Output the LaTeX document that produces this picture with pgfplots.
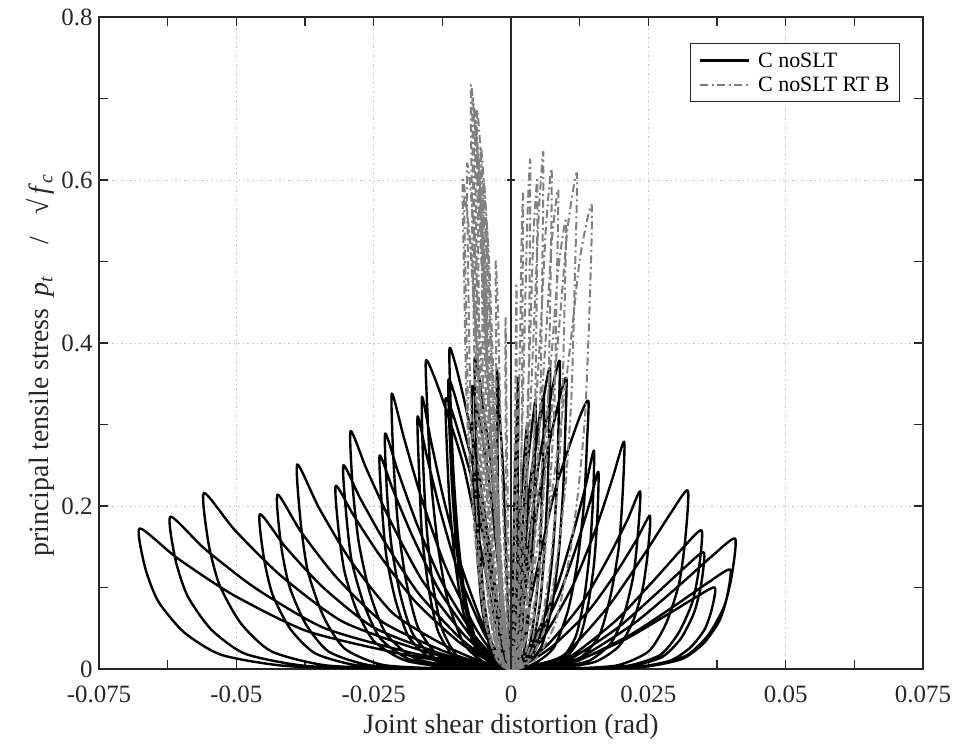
\documentclass[border=0pt]{standalone}
\usepackage{fontspec}
\setmainfont{Liberation Serif}
\usepackage{pgfplots}
\pgfplotsset{compat=1.18}
\definecolor{axgray}{RGB}{38,38,38}
\definecolor{rtb}{RGB}{128,128,128}
\begin{document}
\begin{tikzpicture}
\begin{axis}[
  scale only axis,
  width=824bp, height=652bp,
  xmin=-0.075, xmax=0.075, ymin=0, ymax=0.8,
  xtick={-0.075,-0.05,-0.025,0,0.025,0.05,0.075},
  xticklabels={-0.075,-0.05,-0.025,0,0.025,0.05,0.075},
  ytick={0,0.2,0.4,0.6,0.8},
  yticklabels={0,0.2,0.4,0.6,0.8},
  minor x tick num=1, minor y tick num=1,
  tick align=inside,
  major tick length=9bp, minor tick length=9bp,
  axis line style={line width=1.6bp, axgray},
  every tick/.style={line width=1.6bp, axgray},
  xmajorgrids, ymajorgrids,
  grid style={gray!45, line width=0.9bp, dash pattern=on 1.5bp off 3bp},
  tick label style={font=\fontsize{25}{29}\selectfont, text=axgray},
  xticklabel style={yshift=-13bp},
  yticklabel style={xshift=-3bp},
  label style={font=\fontsize{28}{32}\selectfont, text=axgray},
  xlabel={Joint shear distortion (rad)},
  xlabel style={yshift=-5bp},
  ylabel={principal tensile stress\hspace{12bp}\textit{p}\textsubscript{\textit{t}}\hspace{32bp}/\hspace{22bp}√\hspace{5bp}\textit{f}\textsubscript{\textit{c}}},
  ylabel style={at={(ticklabel cs:0.466)}},
  scaled ticks=false,
  legend style={at={(0.972,0.96)}, anchor=north east, draw=axgray, line width=1bp,
    font=\fontsize{22}{25}\selectfont, inner xsep=8bp, inner ysep=7bp,
    row sep=4bp},
  legend cell align=left,
  legend image code/.code={\draw[#1] (0bp,0bp) -- (49bp,0bp); \path (55bp,0bp);},
]
% C noSLT
\addplot[black, line width=2.4bp, smooth, tension=0.4, line join=round] coordinates {
(0,0) (-0.0203,0.0003) (-0.0406,0.0035) (-0.0527,0.0173) (-0.0595,0.0449) (-0.0642,0.0828) (-0.0666,0.1242) (-0.0676,0.1725) (-0.0608,0.1363) (-0.0507,0.0914) (-0.0372,0.0466) (-0.0203,0.0190) (-0.0081,0.0052) (0,0)
(0.0111,0.0002) (0.0223,0.002) (0.0289,0.01) (0.0326,0.026) (0.0352,0.048) (0.0365,0.072) (0.0371,0.1) (0.0334,0.087) (0.0278,0.064) (0.0204,0.035) (0.0111,0.008) (0.0045,0.002) (0,0)
(-0.0186,0.0004) (-0.0372,0.0037) (-0.0484,0.0187) (-0.0546,0.0486) (-0.0589,0.0898) (-0.0611,0.1346) (-0.0620,0.187) (-0.0558,0.1477) (-0.0465,0.0991) (-0.0341,0.0505) (-0.0186,0.0206) (-0.0074,0.0056) (0,0)
(0.012,0.0002) (0.0239,0.0024) (0.0311,0.0122) (0.0351,0.0317) (0.0379,0.0586) (0.0393,0.0878) (0.0399,0.122) (0.0359,0.1061) (0.0299,0.0781) (0.0219,0.0427) (0.012,0.0098) (0.0048,0.0024) (0,0)
(-0.0168,0.0004) (-0.0335,0.0043) (-0.0436,0.0216) (-0.0492,0.0562) (-0.0531,0.1037) (-0.0551,0.1555) (-0.0559,0.216) (-0.0503,0.1706) (-0.0419,0.1145) (-0.0307,0.0583) (-0.0168,0.0238) (-0.0067,0.0065) (0,0)
(0.0122,0.0003) (0.0245,0.0032) (0.0318,0.016) (0.0359,0.0416) (0.0388,0.0768) (0.0402,0.1152) (0.0408,0.16) (0.0367,0.1392) (0.0306,0.1024) (0.0224,0.056) (0.0122,0.0128) (0.0049,0.0032) (0,0)
(-0.0137,0.0004) (-0.0274,0.0038) (-0.0356,0.019) (-0.0402,0.0494) (-0.0434,0.0912) (-0.0450,0.1368) (-0.0457,0.190) (-0.0411,0.1501) (-0.0343,0.1007) (-0.0251,0.0513) (-0.0137,0.0209) (-0.0055,0.0057) (0,0)
(0.0105,0.0003) (0.0211,0.0029) (0.0274,0.0143) (0.0309,0.0372) (0.0333,0.0686) (0.0346,0.103) (0.0351,0.143) (0.0316,0.1244) (0.0263,0.0915) (0.0193,0.05) (0.0105,0.0114) (0.0042,0.0029) (0,0)
(-0.0128,0.0004) (-0.0255,0.0043) (-0.0332,0.0214) (-0.0374,0.0556) (-0.0404,0.1027) (-0.0419,0.1541) (-0.0425,0.214) (-0.0383,0.1691) (-0.0319,0.1134) (-0.0234,0.0578) (-0.0128,0.0235) (-0.0051,0.0064) (0,0)
(0.0104,0.0003) (0.0208,0.0034) (0.0271,0.017) (0.0305,0.0442) (0.033,0.0816) (0.0342,0.1224) (0.0347,0.17) (0.0312,0.1479) (0.026,0.1088) (0.0191,0.0595) (0.0104,0.0136) (0.0042,0.0034) (0,0)
(-0.0117,0.0005) (-0.0233,0.005) (-0.0303,0.0251) (-0.0342,0.0653) (-0.0370,0.1205) (-0.0383,0.1807) (-0.0389,0.251) (-0.0350,0.1983) (-0.0292,0.1330) (-0.0214,0.0678) (-0.0117,0.0276) (-0.0047,0.0075) (0,0)
(0.0097,0.0004) (0.0193,0.0044) (0.0251,0.0219) (0.0283,0.0569) (0.0306,0.1051) (0.0317,0.1577) (0.0322,0.219) (0.029,0.1905) (0.0242,0.1402) (0.0177,0.0767) (0.0097,0.0175) (0.0039,0.0044) (0,0)
(-0.0096,0.0011) (-0.0191,0.0101) (-0.0249,0.0338) (-0.0281,0.072) (-0.0303,0.1193) (-0.0314,0.171) (-0.0319,0.225) (-0.0287,0.189) (-0.0239,0.1395) (-0.0175,0.0833) (-0.0096,0.0338) (-0.0038,0.009) (0,0)
(0.0076,0.0009) (0.0152,0.0085) (0.0197,0.0282) (0.0223,0.0602) (0.024,0.0996) (0.0249,0.1429) (0.0253,0.188) (0.0228,0.1579) (0.019,0.1166) (0.0139,0.0696) (0.0076,0.0282) (0.003,0.0075) (0,0)
(-0.0092,0.0013) (-0.0183,0.0113) (-0.0238,0.0375) (-0.0268,0.08) (-0.0290,0.1325) (-0.0300,0.19) (-0.0305,0.25) (-0.0275,0.21) (-0.0229,0.155) (-0.0168,0.0925) (-0.0092,0.0375) (-0.0037,0.01) (0,0)
(0.0071,0.0011) (0.0141,0.0098) (0.0183,0.0327) (0.0207,0.0698) (0.0223,0.1155) (0.0231,0.1657) (0.0235,0.218) (0.0212,0.1831) (0.0176,0.1352) (0.0129,0.0807) (0.0071,0.0327) (0.0028,0.0087) (0,0)
(-0.0088,0.0015) (-0.0175,0.0131) (-0.0228,0.0438) (-0.0257,0.0934) (-0.0277,0.1548) (-0.0288,0.2219) (-0.0292,0.292) (-0.0263,0.2453) (-0.0219,0.1810) (-0.0161,0.1080) (-0.0088,0.0438) (-0.0035,0.0117) (0,0)
(0.0062,0.0014) (0.0124,0.0126) (0.0161,0.0419) (0.0181,0.0893) (0.0196,0.1479) (0.0203,0.212) (0.0206,0.279) (0.0185,0.2344) (0.0155,0.173) (0.0113,0.1032) (0.0062,0.0419) (0.0025,0.0112) (0,0)
(-0.0072,0.0013) (-0.0143,0.0118) (-0.0186,0.0393) (-0.0210,0.0838) (-0.0227,0.1389) (-0.0235,0.1991) (-0.0239,0.262) (-0.0215,0.2201) (-0.0179,0.1624) (-0.0131,0.0969) (-0.0072,0.0393) (-0.0029,0.0105) (0,0)
(0.0048,0.0012) (0.0095,0.0109) (0.0124,0.0363) (0.014,0.0774) (0.0151,0.1283) (0.0157,0.1839) (0.0159,0.242) (0.0143,0.2033) (0.0119,0.15) (0.0087,0.0895) (0.0048,0.0363) (0.0019,0.0097) (0,0)
(-0.0069,0.0014) (-0.0137,0.0130) (-0.0179,0.0434) (-0.0202,0.0925) (-0.0218,0.1532) (-0.0226,0.2196) (-0.0229,0.289) (-0.0206,0.2428) (-0.0172,0.1792) (-0.0126,0.1069) (-0.0069,0.0434) (-0.0027,0.0116) (0,0)
(0.0045,0.0013) (0.0091,0.0121) (0.0118,0.0402) (0.0133,0.0858) (0.0143,0.142) (0.0149,0.2037) (0.0151,0.268) (0.0136,0.2251) (0.0113,0.1662) (0.0083,0.0992) (0.0045,0.0402) (0.0018,0.0107) (0,0)
(-0.0065,0.0017) (-0.0130,0.0152) (-0.0169,0.0507) (-0.0191,0.1082) (-0.0206,0.1791) (-0.0214,0.2569) (-0.0217,0.338) (-0.0195,0.2839) (-0.0163,0.2096) (-0.0119,0.1251) (-0.0065,0.0507) (-0.0026,0.0135) (0,0)
(0.0042,0.0066) (0.0078,0.0263) (0.0104,0.0724) (0.0121,0.1316) (0.0133,0.204) (0.0138,0.2731) (0.0141,0.329) (0.0127,0.3126) (0.0106,0.2731) (0.0078,0.2139) (0.0042,0.1053) (0.0017,0.023) (0,0)
(-0.0051,0.0016) (-0.0102,0.014) (-0.0133,0.0465) (-0.0150,0.0992) (-0.0162,0.1643) (-0.0167,0.2356) (-0.0170,0.310) (-0.0153,0.2604) (-0.0128,0.1922) (-0.0094,0.1147) (-0.0051,0.0465) (-0.0020,0.0124) (0,0)
(0.003,0.0071) (0.0056,0.0286) (0.0075,0.0785) (0.0087,0.1428) (0.0095,0.2213) (0.0099,0.2963) (0.0101,0.357) (0.0091,0.3392) (0.0076,0.2963) (0.0056,0.2321) (0.003,0.1142) (0.0012,0.025) (0,0)
(-0.0049,0.0017) (-0.0097,0.015) (-0.0126,0.0501) (-0.0143,0.1069) (-0.0154,0.1770) (-0.0160,0.2538) (-0.0162,0.334) (-0.0146,0.2806) (-0.0122,0.2071) (-0.0089,0.1236) (-0.0049,0.0501) (-0.0019,0.0134) (0,0)
(0.0027,0.0076) (0.0049,0.0302) (0.0066,0.0832) (0.0077,0.1512) (0.0084,0.2344) (0.0087,0.3137) (0.0089,0.378) (0.008,0.3591) (0.0067,0.3137) (0.0049,0.2457) (0.0027,0.121) (0.0011,0.0265) (0,0)
(-0.0047,0.0076) (-0.0085,0.0302) (-0.0115,0.0832) (-0.0133,0.1512) (-0.0146,0.2344) (-0.0152,0.3137) (-0.0155,0.378) (-0.0140,0.3591) (-0.0116,0.3137) (-0.0085,0.2457) (-0.0047,0.121) (-0.0019,0.0265) (0,0)
(0.0021,0.0074) (0.0039,0.0295) (0.0053,0.0812) (0.0061,0.1476) (0.0067,0.2288) (0.0070,0.3063) (0.0071,0.369) (0.0064,0.3506) (0.0053,0.3063) (0.0039,0.2399) (0.0021,0.1181) (0.0009,0.0258) (0,0)
(-0.0036,0.0066) (-0.0065,0.0266) (-0.0088,0.073) (-0.0102,0.1328) (-0.0112,0.2058) (-0.0117,0.2756) (-0.0119,0.332) (-0.0107,0.3154) (-0.0089,0.2756) (-0.0065,0.2158) (-0.0036,0.1062) (-0.0014,0.0232) (0,0)
(0.0014,0.0066) (0.0025,0.0264) (0.0033,0.0726) (0.0039,0.132) (0.0042,0.2046) (0.0044,0.2739) (0.0045,0.33) (0.0041,0.3135) (0.0034,0.2739) (0.0025,0.2145) (0.0014,0.1056) (0.0005,0.0231) (0,0)
(-0.0034,0.0071) (-0.0063,0.0284) (-0.0084,0.0781) (-0.0098,0.142) (-0.0107,0.2201) (-0.0112,0.2947) (-0.0114,0.355) (-0.0103,0.3373) (-0.0086,0.2947) (-0.0063,0.2308) (-0.0034,0.1136) (-0.0014,0.0249) (0,0)
(0.0004,0.0071) (0.0007,0.0286) (0.001,0.0785) (0.0011,0.1428) (0.0012,0.2213) (0.0013,0.2963) (0.0013,0.357) (0.0012,0.3392) (0.001,0.2963) (0.0007,0.2321) (0.0004,0.1142) (0.0002,0.025) (0,0)
(-0.0034,0.0079) (-0.0062,0.0314) (-0.0083,0.0865) (-0.0096,0.1572) (-0.0105,0.2437) (-0.0110,0.3262) (-0.0112,0.393) (-0.0101,0.3734) (-0.0084,0.3262) (-0.0062,0.2555) (-0.0034,0.1258) (-0.0013,0.0275) (0,0)
(0.0009,0.006) (0.0017,0.024) (0.0022,0.066) (0.0026,0.12) (0.0028,0.186) (0.0029,0.249) (0.003,0.3) (0.0027,0.285) (0.0023,0.249) (0.0017,0.195) (0.0009,0.096) (0.0004,0.021) (0,0)
(-0.0020,0.0076) (-0.0036,0.0306) (-0.0049,0.084) (-0.0057,0.1528) (-0.0062,0.2368) (-0.0065,0.3171) (-0.0066,0.382) (-0.0059,0.3629) (-0.0050,0.3171) (-0.0036,0.2483) (-0.0020,0.1222) (-0.0008,0.0267) (0,0)
(0.0018,0.0067) (0.0033,0.0268) (0.0044,0.0737) (0.0052,0.134) (0.0056,0.2077) (0.0059,0.2781) (0.006,0.335) (0.0054,0.3183) (0.0045,0.2781) (0.0033,0.2178) (0.0018,0.1072) (0.0007,0.0235) (0,0)
(-0.0021,0.0069) (-0.0039,0.0278) (-0.0053,0.0763) (-0.0061,0.1388) (-0.0067,0.2151) (-0.0070,0.288) (-0.0071,0.347) (-0.0064,0.3297) (-0.0053,0.288) (-0.0039,0.2256) (-0.0021,0.111) (-0.0009,0.0243) (0,0)
(-0.0008,0.0073) (-0.0014,0.0294) (-0.0019,0.0807) (-0.0022,0.1468) (-0.0024,0.2275) (-0.0025,0.3046) (-0.0026,0.367) (-0.0023,0.3487) (-0.0020,0.3046) (-0.0014,0.2386) (-0.0008,0.1174) (-0.0003,0.0257) (0,0)
};
\addlegendentry{C noSLT}
% C noSLT RT B
\addplot[rtb, line width=2bp, smooth, tension=0.4, dash pattern=on 8bp off 3.5bp on 2bp off 3.5bp] coordinates {
(0,0) (-0.0022,0.0143) (-0.004,0.0717) (-0.0053,0.1721) (-0.0061,0.2725) (-0.0067,0.3944) (-0.0071,0.5593) (-0.0073,0.717) (-0.0063,0.6381) (-0.0055,0.5162) (-0.0044,0.3585) (-0.0029,0.1793) (-0.0015,0.0502) (0,0)
(0.0007,0.0117) (0.0012,0.0583) (0.0016,0.1399) (0.0018,0.2215) (0.002,0.3207) (0.0021,0.4547) (0.0022,0.583) (0.0019,0.5189) (0.0017,0.4198) (0.0013,0.2915) (0.0009,0.1458) (0.0004,0.0408) (0,0)
(-0.0021,0.014) (-0.0039,0.07) (-0.005,0.168) (-0.0058,0.266) (-0.0064,0.385) (-0.0068,0.546) (-0.007,0.7) (-0.006,0.623) (-0.0053,0.504) (-0.0042,0.35) (-0.0028,0.175) (-0.0014,0.049) (0,0)
(0.0011,0.0125) (0.0019,0.0625) (0.0025,0.15) (0.0029,0.2375) (0.0032,0.3438) (0.0034,0.4875) (0.0035,0.625) (0.003,0.5563) (0.0026,0.45) (0.0021,0.3125) (0.0014,0.1563) (0.0007,0.0438) (0,0)
(-0.0019,0.0137) (-0.0034,0.0686) (-0.0045,0.1646) (-0.0051,0.2607) (-0.0057,0.3773) (-0.006,0.5351) (-0.0062,0.686) (-0.0053,0.6105) (-0.0047,0.4939) (-0.0037,0.343) (-0.0025,0.1715) (-0.0012,0.048) (0,0)
(0.0018,0.0127) (0.0032,0.0634) (0.0042,0.1522) (0.0049,0.2409) (0.0054,0.3487) (0.0057,0.4945) (0.0059,0.634) (0.0051,0.5643) (0.0044,0.4565) (0.0035,0.317) (0.0024,0.1585) (0.0012,0.0444) (0,0)
(-0.002,0.0132) (-0.0036,0.066) (-0.0047,0.1584) (-0.0054,0.2508) (-0.006,0.363) (-0.0063,0.5148) (-0.0065,0.66) (-0.0056,0.5874) (-0.0049,0.4752) (-0.0039,0.33) (-0.0026,0.165) (-0.0013,0.0462) (0,0)
(0.0022,0.0123) (0.0041,0.0614) (0.0053,0.1474) (0.0061,0.2333) (0.0068,0.3377) (0.0072,0.4789) (0.0074,0.614) (0.0064,0.5465) (0.0056,0.4421) (0.0044,0.307) (0.003,0.1535) (0.0015,0.043) (0,0)
(-0.0026,0.0116) (-0.0047,0.058) (-0.0061,0.1392) (-0.0071,0.2204) (-0.0078,0.319) (-0.0082,0.4524) (-0.0085,0.58) (-0.0073,0.5162) (-0.0064,0.4176) (-0.0051,0.29) (-0.0034,0.145) (-0.0017,0.0406) (0,0)
(0.0026,0.0118) (0.0047,0.0588) (0.0062,0.1411) (0.0071,0.2234) (0.0079,0.3234) (0.0083,0.4586) (0.0086,0.588) (0.0074,0.5233) (0.0065,0.4234) (0.0052,0.294) (0.0034,0.147) (0.0017,0.0412) (0,0)
(-0.0024,0.0124) (-0.0044,0.062) (-0.0058,0.1488) (-0.0066,0.2356) (-0.0074,0.341) (-0.0078,0.4836) (-0.008,0.62) (-0.0069,0.5518) (-0.006,0.4464) (-0.0048,0.31) (-0.0032,0.155) (-0.0016,0.0434) (0,0)
(0.0036,0.0122) (0.0066,0.0608) (0.0086,0.1459) (0.01,0.231) (0.011,0.3344) (0.0116,0.4742) (0.012,0.608) (0.0103,0.5411) (0.009,0.4378) (0.0072,0.304) (0.0048,0.152) (0.0024,0.0426) (0,0)
(-0.0017,0.0128) (-0.003,0.064) (-0.004,0.1536) (-0.0046,0.2432) (-0.0051,0.352) (-0.0053,0.4992) (-0.0055,0.64) (-0.0047,0.5696) (-0.0041,0.4608) (-0.0033,0.32) (-0.0022,0.16) (-0.0011,0.0448) (0,0)
(0.0044,0.0114) (0.0081,0.0569) (0.0106,0.1366) (0.0122,0.2162) (0.0135,0.313) (0.0143,0.4438) (0.0147,0.569) (0.0126,0.5064) (0.011,0.4097) (0.0088,0.2845) (0.0059,0.1423) (0.0029,0.0398) (0,0)
(-0.0026,0.012) (-0.0048,0.06) (-0.0063,0.144) (-0.0073,0.228) (-0.0081,0.33) (-0.0085,0.468) (-0.0088,0.6) (-0.0076,0.534) (-0.0066,0.432) (-0.0053,0.3) (-0.0035,0.15) (-0.0018,0.042) (0,0)
(0.0014,0.012) (0.0026,0.06) (0.0035,0.144) (0.004,0.228) (0.0044,0.33) (0.0047,0.468) (0.0048,0.6) (0.0041,0.534) (0.0036,0.432) (0.0029,0.3) (0.0019,0.15) (0.001,0.042) (0,0)
(-0.0015,0.012) (-0.0028,0.06) (-0.0036,0.144) (-0.0042,0.228) (-0.0046,0.33) (-0.0049,0.468) (-0.005,0.6) (-0.0043,0.534) (-0.0038,0.432) (-0.003,0.3) (-0.002,0.15) (-0.001,0.042) (0,0)
(0.003,0.011) (0.0055,0.055) (0.0072,0.132) (0.0083,0.209) (0.0092,0.3025) (0.0097,0.429) (0.01,0.55) (0.0086,0.4895) (0.0075,0.396) (0.006,0.275) (0.004,0.1375) (0.002,0.0385) (0,0)
(-0.002,0.0138) (-0.0037,0.069) (-0.0049,0.1656) (-0.0056,0.2622) (-0.0063,0.3795) (-0.0066,0.5382) (-0.0068,0.69) (-0.0058,0.6141) (-0.0051,0.4968) (-0.0041,0.345) (-0.0027,0.1725) (-0.0014,0.0483) (0,0)
(0.0003,0.0094) (0.0006,0.047) (0.0007,0.1128) (0.0008,0.1786) (0.0009,0.2585) (0.001,0.3666) (0.001,0.47) (0.0009,0.4183) (0.0008,0.3384) (0.0006,0.235) (0.0004,0.1175) (0.0002,0.0329) (0,0)
(-0.0014,0.011) (-0.0025,0.055) (-0.0032,0.132) (-0.0037,0.209) (-0.0041,0.3025) (-0.0044,0.429) (-0.0045,0.55) (-0.0039,0.4895) (-0.0034,0.396) (-0.0027,0.275) (-0.0018,0.1375) (-0.0009,0.0385) (0,0)
(-0.0008,0.01) (-0.0015,0.05) (-0.002,0.12) (-0.0023,0.19) (-0.0026,0.275) (-0.0027,0.39) (-0.0028,0.5) (-0.0024,0.445) (-0.0021,0.36) (-0.0017,0.25) (-0.0011,0.125) (-0.0006,0.035) (0,0)
(-0.0003,0.0086) (-0.0006,0.043) (-0.0007,0.1032) (-0.0008,0.1634) (-0.0009,0.2365) (-0.001,0.3354) (-0.001,0.43) (-0.0009,0.3827) (-0.0008,0.3096) (-0.0006,0.215) (-0.0004,0.1075) (-0.0002,0.0301) (0,0)
};
\addlegendentry{C noSLT RT B}
% zero line with its ticks
\addplot[axgray, line width=1.6bp, forget plot] coordinates {(0,0) (0,0.8)};
\addplot[axgray, line width=1.6bp, forget plot] coordinates {(-0.0008,0.2) (0.0008,0.2)};
\addplot[axgray, line width=1.6bp, forget plot] coordinates {(-0.0008,0.4) (0.0008,0.4)};
\addplot[axgray, line width=1.6bp, forget plot] coordinates {(-0.0008,0.6) (0.0008,0.6)};
\end{axis}
\pgfresetboundingbox
\path[use as bounding box] ([xshift=-99bp,yshift=-75bp]current axis.south west) rectangle ([xshift=32bp,yshift=17bp]current axis.north east);
\end{tikzpicture}
\end{document}
